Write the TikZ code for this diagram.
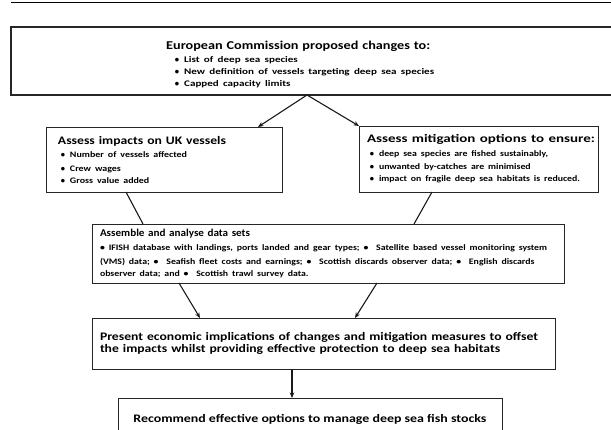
\documentclass[tikz,border=0pt]{standalone}
\usepackage{fontspec}
\usepackage{graphicx}
\setmainfont{Carlito}
\usetikzlibrary{arrows.meta}

% one line of text set to a given width
\newcommand{\fitw}[2]{\resizebox{#1pt}{\height}{#2}}
% widen a block of lines by the factor its longest line needs
\newlength{\natw}
\newcommand{\scaleby}[2]{\settowidth{\natw}{#2}\pgfmathsetmacro{\sxf}{#1/\natw}}
\newcommand{\sx}[1]{\scalebox{\sxf}[1]{#1}}
% bullet hung left of the item text
\newcommand{\itm}[1]{\hspace*{#1pt}\llap{\textbullet\hspace{5pt}}}

\begin{document}
\begin{tikzpicture}[x=1pt, y=-1pt,
		box/.style={draw=black!85, line width=0.9pt, anchor=north west, inner ysep=0pt, outer sep=0pt, align=left, font=\bfseries},
		link/.style={line width=1.1pt, black!90},
		arr/.style={link, -{Stealth[length=5.5pt, width=4.5pt]}}]
	\useasboundingbox (0,0) rectangle (611,429);
	\clip (0,0) rectangle (611,429);
	\draw[line width=1pt] (11,2.5) -- (611,2.5);
	
	% proposal box, runs off the right edge
	\node[box, minimum width=620, minimum height=68, line width=1.2pt] (ec) at (11,27) {};
	\node[anchor=west, align=left, text width=330, inner sep=0pt, font=\bfseries] (ectxt) at (166,64.5) {%
		{\fontsize{12}{14}\selectfont \fitw{264}{European Commission proposed changes to:}\par}
		\fontsize{8.6}{12.5}\selectfont
		\scaleby{250}{New definition of vessels targeting deep sea species}%
		\itm{18}\sx{List of deep sea species}\\
		\itm{18}\sx{New definition of vessels targeting deep sea species}\\
		\itm{18}\sx{Capped capacity limits}};
	
	\node[box, inner xsep=12pt, text width=212, minimum width=236, minimum height=65] (imp) at (46,127) {%
		{\fontsize{11.5}{13}\selectfont \fitw{168}{Assess impacts on UK vessels}\par}
		\fontsize{8.4}{13.5}\selectfont
		\scaleby{117}{Number of vessels affected}%
		\itm{12}\sx{Number of vessels affected}\\
		\itm{12}\sx{Crew wages}\\
		\itm{12}\sx{Gross value added}};
	\node[box, inner xsep=8pt, text width=223, minimum width=239, minimum height=66] (mit) at (359,126) {%
		{\fontsize{11.5}{13}\selectfont \fitw{228}{Assess mitigation options to ensure:}\par}
		\fontsize{8.4}{13.5}\selectfont
		\scaleby{201}{impact on fragile deep sea habitats is reduced.}%
		\itm{12}\sx{deep sea species are fished sustainably,}\\
		\itm{12}\sx{unwanted by-catches are minimised}\\
		\itm{12}\sx{impact on fragile deep sea habitats is reduced.}};
	
	\node[box, inner xsep=8pt, text width=456, minimum width=472, minimum height=59] (dat) at (92,224) {%
		{\fontsize{10.5}{13}\selectfont \fitw{150}{Assemble and analyse data sets}\par}
		\fontsize{8.4}{14}\selectfont
		\scaleby{447}{\textbullet\ IFISH database with landings, ports landed and gear types; \textbullet\ \ Satellite based vessel monitoring system}%
		\sx{\textbullet\ IFISH database with landings, ports landed and gear types; \textbullet\ \ Satellite based vessel monitoring system}\\
		\sx{(VMS) data; \textbullet\ \ Seafish fleet costs and earnings; \textbullet\ \ Scottish discards observer data; \textbullet\ \ English discards}\\
		\sx{observer data; and \textbullet\ \ Scottish trawl survey data.}};
	
	\node[box, inner xsep=8pt, text width=447, minimum width=463, minimum height=51] (pres) at (92,318) {%
		\fontsize{11.5}{17}\selectfont
		\scaleby{438}{Present economic implications of changes and mitigation measures to offset}%
		\sx{Present economic implications of changes and mitigation measures to offset}\\
		\sx{the impacts whilst providing effective protection to deep sea habitats}};
	
	\node[box, align=center, minimum width=384, minimum height=42] (rec) at (118,398) {%
		\fontsize{11.5}{14}\selectfont \fitw{353}{Recommend effective options to manage deep sea fish stocks}};
	
	% links between the steps
	\draw[arr] ([xshift=296pt]ec.south west) -- ([xshift=-24pt]imp.north east);
	\draw[arr] ([xshift=296pt]ec.south west) -- (mit.north west);
	\draw[link] ([xshift=80pt]imp.south west) -- ([xshift=51pt]dat.north west);
	\draw[link] ([xshift=73pt]mit.south west) -- ([xshift=322pt]dat.north west);
	\draw[arr] ([xshift=87pt]dat.south west) -- ([xshift=108pt]pres.north west);
	\draw[arr] ([xshift=285pt]dat.south west) -- ([xshift=263pt]pres.north west);
	\draw[arr] ([xshift=200pt]pres.south west) -- ([xshift=174pt]rec.north west);
	
\end{tikzpicture}
\end{document}
